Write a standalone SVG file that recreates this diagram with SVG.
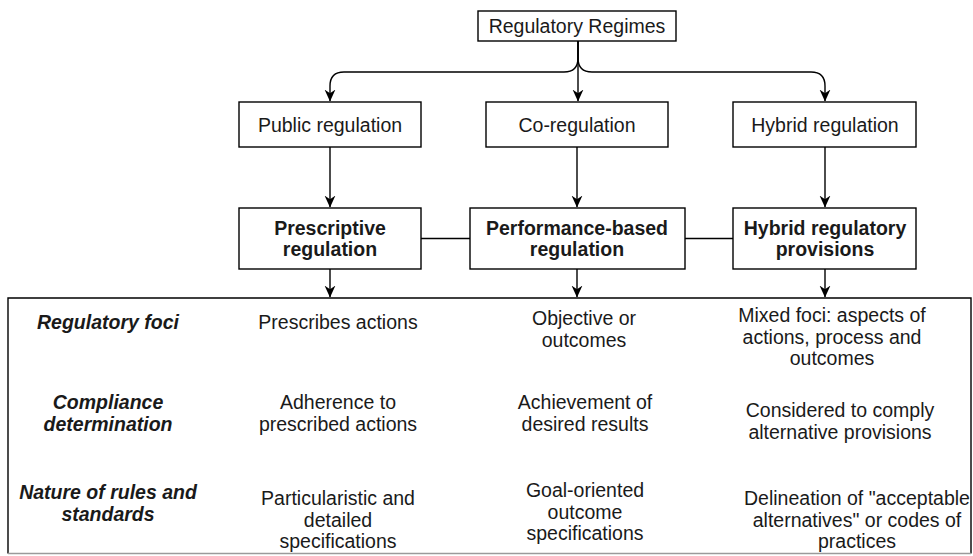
<svg xmlns="http://www.w3.org/2000/svg" width="973" height="556" viewBox="0 0 973 556">
  <style>
    .box { fill: #ffffff; stroke: #000000; stroke-width: 1.4; }
    .edge { fill: none; stroke: #000000; stroke-width: 1.4; }
    text { font-family: "Liberation Sans", Arial, Helvetica, sans-serif; font-size: 19.5px; fill: #1a1a1a; text-anchor: middle; }
    .b { font-weight: bold; }
    .bi { font-weight: bold; font-style: italic; }
  </style>
  <defs>
    <marker id="arrow" viewBox="0 0 10 10" refX="9.5" refY="5" markerWidth="12" markerHeight="12" markerUnits="userSpaceOnUse" orient="auto">
      <path d="M0,0.5 L10,5 L0,9.5 L3,5 Z" fill="#000000"/>
    </marker>
  </defs>

  <rect width="973" height="556" fill="#ffffff"/>

  <!-- connectors -->
  <g id="connectors">
    <path class="edge" d="M578,41 V58 Q578,72 564,72 H344 Q330,72 330,86 V101" marker-end="url(#arrow)"/>
    <path class="edge" d="M578,41 V101" marker-end="url(#arrow)"/>
    <path class="edge" d="M578,41 V58 Q578,72 592,72 H811 Q825,72 825,86 V101" marker-end="url(#arrow)"/>
    <path class="edge" d="M330,147 V207" marker-end="url(#arrow)"/>
    <path class="edge" d="M577,147 V207" marker-end="url(#arrow)"/>
    <path class="edge" d="M825,147 V207" marker-end="url(#arrow)"/>
    <path class="edge" d="M421,238.5 H470"/>
    <path class="edge" d="M685,238.5 H733"/>
    <path class="edge" d="M330,269 V297" marker-end="url(#arrow)"/>
    <path class="edge" d="M577,269 V297" marker-end="url(#arrow)"/>
    <path class="edge" d="M825,269 V297" marker-end="url(#arrow)"/>
  </g>

  <!-- root -->
  <g id="regimes">
    <rect class="box" x="478" y="11" width="198" height="30"/>
    <text x="577" y="32.5">Regulatory Regimes</text>
  </g>

  <!-- regulation types -->
  <g id="public">
    <rect class="box" x="239" y="102" width="182" height="45"/>
    <text x="330" y="131.5">Public regulation</text>
  </g>
  <g id="coreg">
    <rect class="box" x="486" y="102" width="182" height="45"/>
    <text x="577" y="131.5">Co-regulation</text>
  </g>
  <g id="hybrid">
    <rect class="box" x="733" y="102" width="183" height="45"/>
    <text x="825" y="131.5">Hybrid regulation</text>
  </g>

  <!-- regulatory approaches -->
  <g id="prescriptive">
    <rect class="box" x="239" y="208" width="182" height="61"/>
    <text class="b" x="330" y="234.5">Prescriptive</text>
    <text class="b" x="330" y="256">regulation</text>
  </g>
  <g id="performance">
    <rect class="box" x="470" y="208" width="215" height="61"/>
    <text class="b" x="577" y="234.5">Performance-based</text>
    <text class="b" x="577" y="256">regulation</text>
  </g>
  <g id="provisions">
    <rect class="box" x="733" y="208" width="183" height="61"/>
    <text class="b" x="825" y="234.5">Hybrid regulatory</text>
    <text class="b" x="825" y="256">provisions</text>
  </g>

  <!-- comparison table -->
  <g id="table">
    <path d="M8,553.5 V298 H971 V553.5" fill="none" stroke="#000000" stroke-width="1.4"/>
    <path d="M8,553.5 H971" fill="none" stroke="#9a9a9a" stroke-width="1.4"/>

    <text class="bi" x="108" y="329">Regulatory foci</text>
    <text x="338" y="329">Prescribes actions</text>
    <text x="584" y="325">Objective or</text>
    <text x="584" y="346.5">outcomes</text>
    <text x="832" y="322">Mixed foci: aspects of</text>
    <text x="832" y="343.5">actions, process and</text>
    <text x="832" y="365">outcomes</text>

    <text class="bi" x="108" y="409">Compliance</text>
    <text class="bi" x="108" y="430.5">determination</text>
    <text x="338" y="409">Adherence to</text>
    <text x="338" y="430.5">prescribed actions</text>
    <text x="585" y="409">Achievement of</text>
    <text x="585" y="430.5">desired results</text>
    <text x="840" y="417">Considered to comply</text>
    <text x="840" y="438.5">alternative provisions</text>

    <text class="bi" x="108" y="499">Nature of rules and</text>
    <text class="bi" x="108" y="520.5">standards</text>
    <text x="338" y="505">Particularistic and</text>
    <text x="338" y="526.5">detailed</text>
    <text x="338" y="548">specifications</text>
    <text x="585" y="497">Goal-oriented</text>
    <text x="585" y="518.5">outcome</text>
    <text x="585" y="540">specifications</text>
    <text x="857" y="505">Delineation of "acceptable</text>
    <text x="857" y="526.5">alternatives" or codes of</text>
    <text x="857" y="548">practices</text>
  </g>
</svg>
